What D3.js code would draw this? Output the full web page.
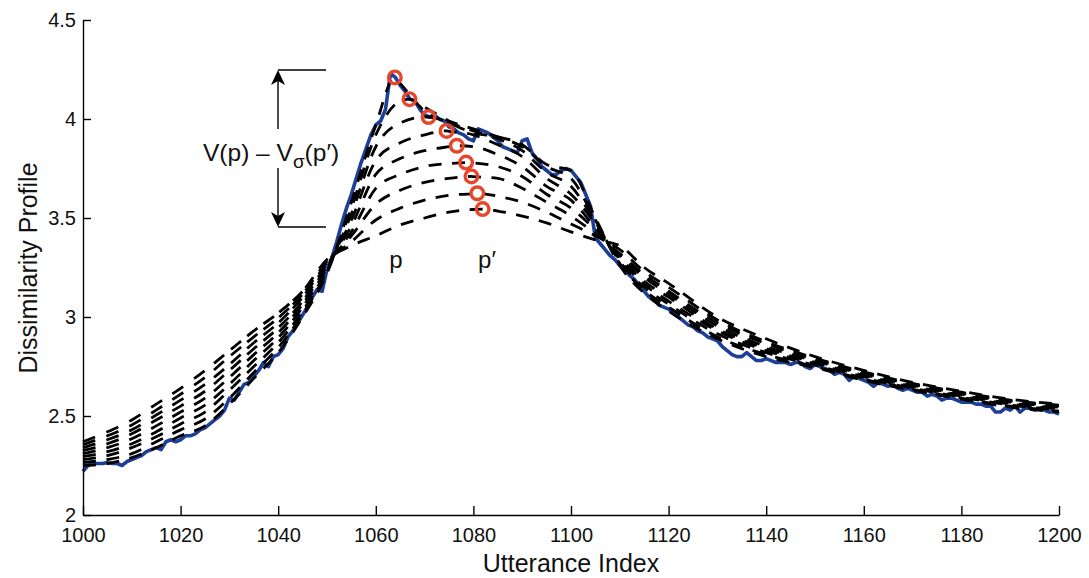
<!DOCTYPE html>
<html>
<head>
<meta charset="utf-8">
<script src="https://cdn.jsdelivr.net/npm/d3@7"></script>
<style>
  html, body { margin: 0; padding: 0; background: #fff; }
  svg { display: block; font-family: "Liberation Sans", Arial, Helvetica, sans-serif; }
</style>
</head>
<body>
<svg id="chart" width="1089" height="578"></svg>
<script>
// ---------- data ----------
const xTicks = [1000, 1020, 1040, 1060, 1080, 1100, 1120, 1140, 1160, 1180, 1200];
const xTickLabels = ["1000","1020","1040","1060","1080","1100","1120","1140","1160","1180","1200"];
const yTicks = [2, 2.5, 3, 3.5, 4, 4.5];
const yTickLabels = ["2","2.5","3","3.5","4","4.5"];

// blue profile, one value per utterance index 1000..1200
const profileStart = 1000;
const profileValues = [
  2.22, 2.25, 2.26, 2.26, 2.26, 2.265, 2.26, 2.26, 2.25, 2.27,
  2.28, 2.29, 2.30, 2.32, 2.33, 2.34, 2.33, 2.37, 2.38, 2.37,
  2.38, 2.40, 2.40, 2.41, 2.43, 2.44, 2.46, 2.48, 2.50, 2.53,
  2.59, 2.58, 2.62, 2.66, 2.67, 2.70, 2.73, 2.77, 2.75, 2.80,
  2.81, 2.84, 2.90, 2.93, 2.97, 3.01, 3.05, 3.10, 3.14, 3.13,
  3.24, 3.30, 3.38, 3.47, 3.55, 3.62, 3.70, 3.78, 3.85, 3.92,
  3.97, 3.99, 4.05, 4.23, 4.21, 4.17, 4.14, 4.10, 4.09, 4.05,
  4.02, 4.01, 4.02, 4.00, 3.99, 3.96, 3.95, 3.93, 3.92, 3.90,
  3.89, 3.95, 3.94, 3.93, 3.91, 3.89, 3.86, 3.85, 3.84, 3.83,
  3.89, 3.90, 3.83, 3.80, 3.76, 3.74, 3.72, 3.72, 3.74, 3.75,
  3.74, 3.71, 3.68, 3.62, 3.56, 3.40, 3.37, 3.34, 3.31, 3.29,
  3.26, 3.24, 3.21, 3.19, 3.16, 3.13, 3.10, 3.09, 3.06, 3.05,
  3.04, 3.02, 3.00, 2.98, 2.96, 2.95, 2.93, 2.92, 2.90, 2.89,
  2.88, 2.85, 2.83, 2.81, 2.80, 2.80, 2.82, 2.80, 2.78, 2.78,
  2.79, 2.78, 2.77, 2.77, 2.77, 2.76, 2.77, 2.77, 2.75, 2.74,
  2.76, 2.75, 2.74, 2.73, 2.71, 2.72, 2.71, 2.68, 2.70, 2.69,
  2.68, 2.67, 2.65, 2.67, 2.66, 2.65, 2.66, 2.64, 2.63, 2.64,
  2.63, 2.62, 2.62, 2.60, 2.61, 2.60, 2.58, 2.59, 2.59, 2.58,
  2.57, 2.57, 2.57, 2.56, 2.56, 2.55, 2.55, 2.52, 2.52, 2.54,
  2.53, 2.55, 2.52, 2.54, 2.54, 2.53, 2.54, 2.53, 2.52, 2.52,
  2.51
];

// dashed smoothed curves, sampled at these indices
const dashX = [1000,1005,1010,1015,1020,1025,1030,1035,1040,1045,1050,1055,1060,1065,1070,1075,1080,1085,1090,1095,1100,1105,1110,1115,1120,1130,1140,1150,1160,1170,1180,1190,1200];
const curve1 = [2.25,2.26,2.29,2.34,2.40,2.45,2.56,2.69,2.82,3.00,3.22,3.58,3.97,4.18,4.04,3.98,3.93,3.91,3.87,3.77,3.74,3.50,3.26,3.12,3.03,2.89,2.80,2.745,2.68,2.63,2.585,2.545,2.52];
const curve2 = [2.265,2.28,2.31,2.37,2.43,2.485,2.59,2.72,2.845,3.015,3.23,3.55,3.92,4.09,4.06,3.99,3.95,3.91,3.86,3.76,3.70,3.49,3.27,3.135,3.05,2.90,2.81,2.75,2.686,2.635,2.59,2.55,2.525];
const curve3 = [2.28,2.30,2.34,2.395,2.46,2.52,2.63,2.75,2.87,3.03,3.24,3.52,3.86,3.98,4.01,3.98,3.94,3.90,3.84,3.73,3.66,3.48,3.28,3.15,3.065,2.915,2.82,2.757,2.692,2.64,2.595,2.555,2.53];
const curve4 = [2.295,2.32,2.36,2.42,2.49,2.555,2.66,2.78,2.895,3.05,3.25,3.49,3.79,3.88,3.92,3.938,3.92,3.87,3.81,3.70,3.62,3.47,3.29,3.165,3.08,2.93,2.83,2.764,2.698,2.645,2.60,2.56,2.535];
const curve5 = [2.31,2.34,2.385,2.45,2.52,2.59,2.695,2.81,2.92,3.065,3.26,3.46,3.72,3.80,3.84,3.86,3.86,3.82,3.76,3.66,3.59,3.45,3.30,3.18,3.10,2.94,2.84,2.771,2.704,2.65,2.605,2.565,2.54];
const curve6 = [2.325,2.36,2.41,2.48,2.55,2.625,2.73,2.84,2.945,3.08,3.27,3.43,3.65,3.72,3.76,3.775,3.778,3.76,3.71,3.62,3.55,3.44,3.31,3.20,3.115,2.955,2.85,2.778,2.71,2.655,2.61,2.57,2.545];
const curve7 = [2.34,2.38,2.43,2.505,2.58,2.66,2.76,2.87,2.97,3.10,3.275,3.41,3.57,3.64,3.68,3.70,3.709,3.70,3.65,3.58,3.51,3.42,3.32,3.215,3.13,2.97,2.865,2.785,2.716,2.66,2.615,2.575,2.55];
const curve8 = [2.355,2.40,2.455,2.53,2.61,2.695,2.80,2.90,2.995,3.115,3.28,3.38,3.49,3.55,3.59,3.615,3.623,3.61,3.58,3.53,3.47,3.41,3.34,3.23,3.15,2.985,2.875,2.792,2.723,2.665,2.62,2.58,2.555];
const curve9 = [2.37,2.42,2.48,2.56,2.64,2.73,2.83,2.93,3.02,3.13,3.29,3.36,3.41,3.465,3.50,3.53,3.543,3.535,3.51,3.475,3.43,3.39,3.36,3.25,3.17,3.00,2.89,2.80,2.73,2.67,2.625,2.585,2.56];
const dashCurves = [curve1, curve2, curve3, curve4, curve5, curve6, curve7, curve8, curve9];

// red circles: peak of each dashed curve
const peakX = [1063.9, 1066.9, 1070.8, 1074.5, 1076.6, 1078.5, 1079.6, 1080.8, 1081.9];
const peakV = [4.21, 4.10, 4.01, 3.94, 3.865, 3.78, 3.71, 3.625, 3.545];

// ---------- drawing ----------
const svg = d3.select("#chart");
const x = d3.scaleLinear().domain([1000, 1200]).range([83, 1059]);
const y = d3.scaleLinear().domain([2, 4.5]).range([515, 20]);

const blue = "#1d3f95";
const red = "#e8462a";

// blue profile
const profile = profileValues.map((v, i) => [profileStart + i, v]);
svg.append("path")
  .datum(profile)
  .attr("fill", "none")
  .attr("stroke", blue)
  .attr("stroke-width", 3.6)
  .attr("stroke-linejoin", "round")
  .attr("d", d3.line().x(d => x(d[0])).y(d => y(d[1])));

// dashed curves
const dashOn = 13, dashOff = 10.5, period = dashOn + dashOff;
const smoothLine = d3.line().x(d => x(d[0])).y(d => y(d[1])).curve(d3.curveMonotoneX);
const dashPaths = dashCurves.map((vals, k) => {
  const pts = dashX.map((xx, i) => [xx, vals[i]]);
  pts.push([peakX[k], peakV[k]]);
  pts.sort((a, b) => a[0] - b[0]);
  return svg.append("path")
    .datum(pts)
    .attr("fill", "none")
    .attr("stroke", "#000")
    .attr("stroke-width", 2.8)
    .attr("d", smoothLine);
});

// dash pattern: in the left tail the dashes of all curves line up in columns
function lengthAtX(node, px) {
  let lo = 0, hi = node.getTotalLength();
  for (let i = 0; i < 40; i++) {
    const mid = (lo + hi) / 2;
    if (node.getPointAtLength(mid).x < px) lo = mid; else hi = mid;
  }
  return lo;
}
const ref = dashPaths[0].node();
const colX = [];
for (let s = 0; ; s += period) {
  const px = ref.getPointAtLength(s).x;
  if (px > x(1047)) break;
  colX.push(px);
}
dashPaths.forEach(p => {
  const node = p.node();
  const total = node.getTotalLength();
  const starts = colX.map(px => lengthAtX(node, px));
  starts[0] = 0;
  const arr = [];
  for (let i = 0; i < starts.length - 1; i++) {
    const gap = starts[i + 1] - starts[i];
    arr.push(dashOn, Math.max(gap - dashOn, 2));
  }
  let used = starts[starts.length - 1];
  while (used < total + period) { arr.push(dashOn, dashOff); used += period; }
  p.attr("stroke-dasharray", arr.map(v => v.toFixed(2)).join(","));
});

// red circles
svg.append("g").selectAll("circle")
  .data(peakX.map((xx, i) => [xx, peakV[i]]))
  .join("circle")
  .attr("cx", d => x(d[0]))
  .attr("cy", d => y(d[1]))
  .attr("r", 6.3)
  .attr("fill", "none")
  .attr("stroke", red)
  .attr("stroke-width", 3.4);

// axes
const yAxis = d3.axisLeft(y).tickValues(yTicks)
  .tickFormat((d, i) => yTickLabels[i])
  .tickSize(-8).tickSizeOuter(0).tickPadding(7);
const gy = svg.append("g").attr("transform", "translate(83,0)").call(yAxis);
const xAxis = d3.axisBottom(x).tickValues(xTicks)
  .tickFormat((d, i) => xTickLabels[i])
  .tickSize(-9).tickSizeOuter(0).tickPadding(13);
const gx = svg.append("g").attr("transform", "translate(0,515)").call(xAxis);
[gx, gy].forEach(g => {
  g.select(".domain").attr("stroke", "#000").attr("stroke-width", 1.4);
  g.selectAll(".tick line").attr("stroke", "#000").attr("stroke-width", 1.4);
  g.selectAll(".tick text").attr("fill", "#111")
    .style("font-size", "20px")
    .style("font-family", "'Liberation Sans', Arial, sans-serif");
});

// axis titles
svg.append("text")
  .attr("x", 571).attr("y", 572)
  .attr("text-anchor", "middle")
  .style("font-size", "25px").attr("fill", "#111")
  .text("Utterance Index");
svg.append("text")
  .attr("transform", "translate(37,268) rotate(-90)")
  .attr("text-anchor", "middle")
  .style("font-size", "25px").attr("fill", "#111")
  .text("Dissimilarity Profile");

// annotation: arrows and label
const ann = svg.append("g").attr("stroke", "#000").attr("stroke-width", 1.4).attr("fill", "none");
const ax = 278, yTop = 70, yBot = 227;
ann.append("line").attr("x1", ax).attr("x2", 326).attr("y1", yTop).attr("y2", yTop);
ann.append("line").attr("x1", ax).attr("x2", 326).attr("y1", yBot).attr("y2", yBot);
ann.append("line").attr("x1", ax).attr("x2", ax).attr("y1", yTop + 8).attr("y2", 129);
ann.append("line").attr("x1", ax).attr("x2", ax).attr("y1", 168).attr("y2", yBot - 8);
svg.append("path").attr("fill", "#000")
  .attr("d", `M${ax},${yTop} L${ax - 7},${yTop + 15} L${ax},${yTop + 11} L${ax + 7},${yTop + 15} Z`);
svg.append("path").attr("fill", "#000")
  .attr("d", `M${ax},${yBot} L${ax - 7},${yBot - 15} L${ax},${yBot - 11} L${ax + 7},${yBot - 15} Z`);

const lab = svg.append("text")
  .attr("x", 203).attr("y", 161)
  .style("font-size", "24.5px").attr("fill", "#111");
lab.append("tspan").text("V(p) – V");
lab.append("tspan").attr("dy", 7).style("font-size", "19px").text("σ");
lab.append("tspan").attr("dy", -7).text("(p′)");

svg.append("text").attr("x", 396).attr("y", 268).attr("text-anchor", "middle")
  .style("font-size", "24px").attr("fill", "#111").text("p");
svg.append("text").attr("x", 487).attr("y", 268).attr("text-anchor", "middle")
  .style("font-size", "24px").attr("fill", "#111").text("p′");
</script>
</body>
</html>
